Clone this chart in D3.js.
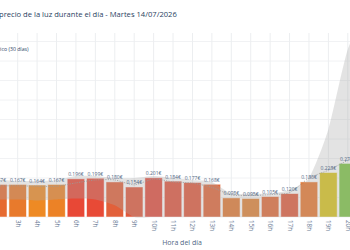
<!DOCTYPE html>
<html><head><meta charset="utf-8">
<script src="https://cdn.jsdelivr.net/npm/d3@7"></script>
<style>body{margin:0;background:#fff;overflow:hidden}svg{display:block}</style>
</head><body>
<svg id="c" width="350" height="250"></svg>
<script>
// Data
const hours = d3.range(0, 24);
const hourLabels = hours.map(h => h + "h");
const tickHours = [3,4,5,6,7,8,9,10,11,12,13,14,15,16,17,18,19,20];
const priceHours = [2,3,4,5,6,7,8,9,10,11,12,13,14,15,16,17,18,19,20];
const prices = [0.167,0.167,0.164,0.167,0.196,0.199,0.180,0.154,0.201,0.184,0.177,0.168,0.098,0.095,0.105,0.120,0.180,0.228,0.275];
const barColors = ["#e66a30","#e87a2c","#ee8a24","#ec8226","#e84836","#e84a36","#e2603a","#e0583c","#e24c3e","#e0543e","#e0583c","#e2663a","#e27a34","#e08236","#e26a38","#e05c3c","#e87830","#d8c41c","#7cc444"];
const histMin  = [0.09,0.09,0.09,0.09,0.085,0.09,0.095,0.09,0.06,0.0,0.0,0.0,0.0,0.0,0.0,0.0,0.0,0.0,0.0,0.0,0.0,0.0,0.0,0.0];
const histMax  = [0.19,0.19,0.19,0.185,0.185,0.19,0.21,0.21,0.2,0.2,0.21,0.2,0.19,0.18,0.12,0.12,0.12,0.14,0.2,0.45,0.86,1.05,1.0,0.8];
const histMean = [0.16,0.16,0.16,0.16,0.158,0.158,0.175,0.19,0.19,0.165,0.195,0.18,0.174,0.152,0.113,0.11,0.115,0.125,0.2,0.24,0.29,0.32,0.3,0.25];
const yTicks = [0,0.1,0.2,0.3,0.4,0.5,0.6,0.7,0.8,0.9];
const titleText = "precio de la luz durante el día - Martes 14/07/2026";
const legendText = "rico (30 días)";
const xTitle = "Hora del día";

const svg = d3.select("#c");
const pTop = 33, pBottom = 217;
const x = d3.scaleBand().domain(hourLabels).range([-51.25, 416.75]).padding(0.1);
const y = d3.scaleLinear().domain([0, 0.944]).range([pBottom, pTop]);
const cx = h => x(h + "h") + x.bandwidth() / 2;

svg.append("rect").attr("width",350).attr("height",250).attr("fill","#fff");
svg.append("defs").append("clipPath").attr("id","pc").append("rect")
  .attr("x",-60).attr("y",pTop).attr("width",480).attr("height",pBottom-pTop+1);

// grid
const g = svg.append("g");
g.selectAll(".hg").data(yTicks).join("line")
  .attr("x1",-60).attr("x2",420).attr("y1",d=>y(d)).attr("y2",d=>y(d))
  .attr("stroke","#f1f2f4").attr("stroke-width",1);
g.selectAll(".vg").data(hours).join("line")
  .attr("x1",d=>cx(d)).attr("x2",d=>cx(d)).attr("y1",pTop).attr("y2",pBottom)
  .attr("stroke","#eceef0").attr("stroke-width",1);

// bars
const bars = svg.append("g");
bars.selectAll("rect").data(priceHours).join("rect")
  .attr("x",(d)=>x(d+"h")).attr("width",x.bandwidth())
  .attr("y",(d,i)=>y(prices[i])).attr("height",(d,i)=>pBottom-y(prices[i]))
  .attr("fill",(d,i)=>barColors[i]).attr("stroke","rgba(255,255,255,0.6)").attr("stroke-width",0.8);

// band
const area = d3.area().x(d=>cx(d)).y0(d=>y(histMin[d])).y1(d=>y(histMax[d])).curve(d3.curveCardinal.tension(0.3));
svg.append("path").datum(hours).attr("d",area).attr("clip-path","url(#pc)")
  .attr("fill","rgba(170,170,170,0.33)");

// mean line
const line = d3.line().x(d=>cx(d)).y(d=>y(histMean[d])).curve(d3.curveCardinal.tension(0.3));
svg.append("path").datum(hours).attr("d",line).attr("clip-path","url(#pc)")
  .attr("fill","none").attr("stroke","#9a9a9a").attr("stroke-width",0.8).attr("stroke-dasharray","1.2,1.2");

// value labels
svg.append("g").selectAll("text").data(priceHours).join("text")
  .attr("x",d=>cx(d)).attr("y",(d,i)=>y(prices[i])-2.5)
  .attr("text-anchor","middle").attr("font-family","Open Sans").attr("font-size",5)
  .attr("fill","#506784").text((d,i)=>prices[i].toFixed(3)+"€");

// x tick labels
svg.append("g").selectAll("text").data(tickHours).join("text")
  .attr("transform",d=>`translate(${cx(d)-2},220) rotate(90)`)
  .attr("font-family","Open Sans").attr("font-size",6.3).attr("fill","#6b7c96")
  .text(d=>d+"h");

// titles
svg.append("text").attr("x",182).attr("y",244.5).attr("text-anchor","middle")
  .attr("font-family","Open Sans").attr("font-size",7).attr("fill","#506784").text(xTitle);
svg.append("text").attr("x",-1).attr("y",16.5)
  .attr("font-family","Open Sans").attr("font-size",7.6).attr("fill","#2a3f5f").text(titleText);
svg.append("text").attr("x",-2).attr("y",50.5)
  .attr("font-family","Open Sans").attr("font-size",5.2).attr("fill","#2a3f5f").text(legendText);
</script>
</body></html>
